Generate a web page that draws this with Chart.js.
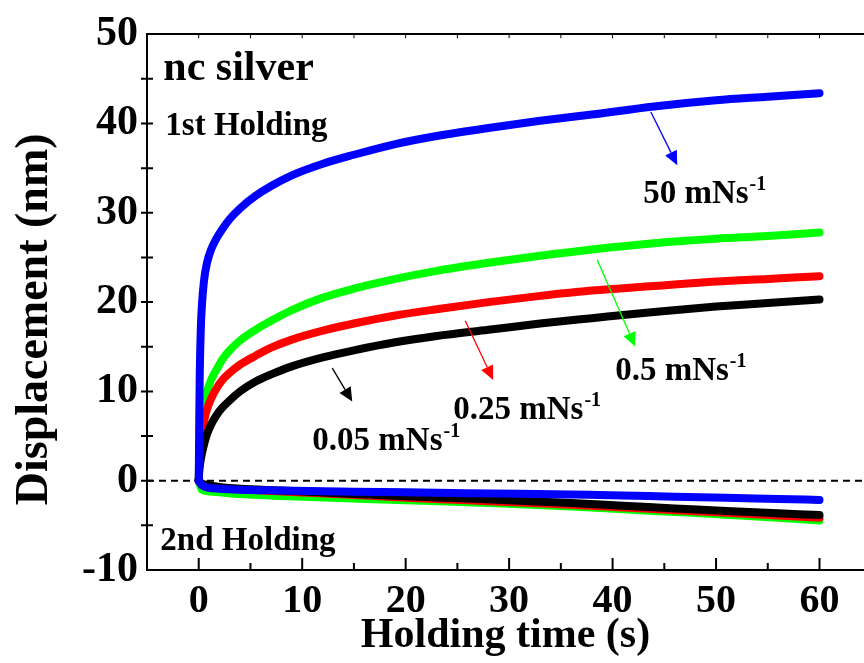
<!DOCTYPE html>
<html>
<head>
<meta charset="utf-8">
<script src="https://cdn.jsdelivr.net/npm/chart.js@4.4.1/dist/chart.umd.min.js"></script>
<style>
  html, body { margin: 0; padding: 0; background: #fff; }
  #wrap { width: 864px; height: 663px; }
</style>
</head>
<body>
<div id="wrap"><canvas id="c" width="864" height="663"></canvas></div>
<script>
/* nc silver — deslocamento durante os dois holdings, por taxa de carga */
const FONT = '"Liberation Serif", "Times New Roman", Times, serif';

// 1st holding: tempo (s) e deslocamento (nm)
const T1 = [0, 0.05, 0.1, 0.2, 0.3, 0.5, 0.8, 1.2, 1.7, 2.3, 3, 4, 5.5, 7, 9, 12, 15, 19, 23, 28, 33, 38, 44, 50, 55, 60];
const D1_50   = [0, 7, 12, 17, 19.5, 22.3, 24.4, 25.9, 27.1, 28.2, 29.3, 30.5, 31.9, 33.0, 34.2, 35.5, 36.5, 37.7, 38.6, 39.5, 40.3, 41.0, 41.9, 42.6, 43.0, 43.4];
const D1_05   = [0, 3, 4.5, 6, 7, 8.5, 10, 11.3, 12.4, 13.6, 14.6, 15.7, 16.9, 17.9, 19.1, 20.5, 21.5, 22.6, 23.5, 24.4, 25.2, 25.9, 26.6, 27.1, 27.4, 27.8];
const D1_025  = [0, 2, 3, 4.2, 5, 6.6, 8, 9.2, 10.3, 11.3, 12.1, 13.0, 14.0, 14.9, 15.8, 16.8, 17.6, 18.5, 19.2, 20.0, 20.7, 21.3, 21.8, 22.3, 22.6, 22.9];
const D1_005  = [0, 1, 1.6, 2.4, 3, 4, 5.2, 6.3, 7.3, 8.2, 9.0, 10.0, 11.1, 11.9, 12.8, 13.8, 14.6, 15.5, 16.2, 16.9, 17.6, 18.2, 18.9, 19.5, 19.9, 20.3];

// 2nd holding
const T2 = [0, 0.3, 1, 2, 4, 8, 15, 20, 26, 31, 36, 41, 46, 51, 56, 60];
const D2_50   = [0, -0.5, -0.8, -0.9, -1.0, -1.1, -1.25, -1.3, -1.4, -1.45, -1.55, -1.65, -1.8, -1.9, -2.05, -2.15];
const D2_05   = [0, -1.0, -1.2, -1.3, -1.5, -1.7, -2.0, -2.2, -2.4, -2.65, -2.9, -3.2, -3.5, -3.8, -4.15, -4.45];
const D2_025  = [0, -0.4, -0.6, -0.8, -1.0, -1.2, -1.6, -1.9, -2.2, -2.45, -2.7, -3.0, -3.3, -3.6, -3.9, -4.15];
const D2_005  = [0, -0.3, -0.5, -0.7, -0.9, -1.1, -1.5, -1.75, -2.0, -2.25, -2.5, -2.8, -3.1, -3.4, -3.65, -3.85];

const SERIES = [
  { name: '50 mNs-1',   color: '#0000ff', d1: D1_50,  d2: D2_50 },
  { name: '0.05 mNs-1', color: '#000000', d1: D1_005, d2: D2_005 },
  { name: '0.25 mNs-1', color: '#ff0000', d1: D1_025, d2: D2_025 },
  { name: '0.5 mNs-1',  color: '#00ff00', d1: D1_05,  d2: D2_05 },
];

const X_TICK_LABELS = [0, 10, 20, 30, 40, 50, 60];
const Y_TICK_LABELS = [-10, 0, 10, 20, 30, 40, 50];

// anotações (coordenadas em dados)
const TEXTS = [
  { text: 'nc silver',   x: -3.42, y: 44.82, size: 42 },
  { text: '1st Holding', x: -3.23, y: 38.75, size: 33 },
  { text: '2nd Holding', x: -3.71, y: -7.79, size: 33 },
  { text: '50 mNs',   sup: '-1', x: 42.96, y: 31.14, size: 33 },
  { text: '0.5 mNs',  sup: '-1', x: 40.25, y: 11.29, size: 33 },
  { text: '0.25 mNs', sup: '-1', x: 24.6,  y: 6.88,  size: 33 },
  { text: '0.05 mNs', sup: '-1', x: 10.98, y: 3.46,  size: 33 },
];
const ARROWS = [
  { color: '#0000ff', from: [43.7, 41.29],  to: [46.25, 35.33] },
  { color: '#00ff00', from: [38.51, 24.74], to: [42.18, 15.04] },
  { color: '#ff0000', from: [25.76, 17.91], to: [28.46, 11.29] },
  { color: '#000000', from: [12.91, 12.61], to: [14.84, 8.86] },
];

const pts = (t, d) => t.map((v, i) => ({ x: v, y: d[i] }));

const datasets = [];
SERIES.forEach(s => {
  [pts(T1, s.d1), pts(T2, s.d2)].forEach(data => {
    datasets.push({
      label: s.name,
      data,
      borderColor: s.color,
      borderWidth: 8,
      borderCapStyle: 'round',
      borderJoinStyle: 'round',
      pointRadius: 0,
      cubicInterpolationMode: 'monotone',
      fill: false,
    });
  });
});
// linha tracejada em zero (desenhada por baixo)
datasets.push({
  label: 'zero',
  data: [{ x: -5, y: 0 }, { x: 64.3, y: 0 }],
  borderColor: '#000',
  borderWidth: 2,
  borderDash: [7, 5],
  pointRadius: 0,
});

const annotations = {
  id: 'annotations',
  afterDraw(chart) {
    const { ctx, chartArea: a, scales: { x, y } } = chart;
    ctx.save();

    // ticks da moldura
    ctx.strokeStyle = '#000';
    ctx.lineWidth = 2;
    ctx.beginPath();
    x.ticks.forEach(t => {
      const px = x.getPixelForValue(t.value);
      if (px < a.left + 2 || px > a.right - 1) return;
      const major = t.value % 10 === 0;
      ctx.moveTo(px, a.bottom);
      ctx.lineTo(px, a.bottom - (major ? 12 : 7));
    });
    y.ticks.forEach(t => {
      const py = y.getPixelForValue(t.value);
      if (py < a.top + 2 || py > a.bottom - 2) return;
      ctx.moveTo(a.left - 6, py);
      ctx.lineTo(a.left + 6, py);
    });
    ctx.stroke();
    ctx.lineWidth = 1;
    ctx.beginPath();
    x.ticks.forEach(t => {
      const px = x.getPixelForValue(t.value);
      if (px < a.left + 2 || px > a.right - 1) return;
      ctx.moveTo(px, a.top);
      ctx.lineTo(px, a.top + 4);
    });
    ctx.stroke();

    // setas
    ARROWS.forEach(ar => {
      const x0 = x.getPixelForValue(ar.from[0]), y0 = y.getPixelForValue(ar.from[1]);
      const x1 = x.getPixelForValue(ar.to[0]),   y1 = y.getPixelForValue(ar.to[1]);
      const ang = Math.atan2(y1 - y0, x1 - x0);
      const L = 14, W = 6.5;
      const bx = x1 - L * Math.cos(ang), by = y1 - L * Math.sin(ang);
      ctx.strokeStyle = ar.color;
      ctx.fillStyle = ar.color;
      ctx.lineWidth = 1.3;
      ctx.beginPath();
      ctx.moveTo(x0, y0);
      ctx.lineTo(bx, by);
      ctx.stroke();
      ctx.beginPath();
      ctx.moveTo(x1, y1);
      ctx.lineTo(bx + W * Math.sin(ang), by - W * Math.cos(ang));
      ctx.lineTo(bx - W * Math.sin(ang), by + W * Math.cos(ang));
      ctx.closePath();
      ctx.fill();
    });

    // textos
    ctx.fillStyle = '#000';
    ctx.textAlign = 'left';
    ctx.textBaseline = 'alphabetic';
    TEXTS.forEach(t => {
      const px = x.getPixelForValue(t.x), py = y.getPixelForValue(t.y);
      ctx.font = 'bold ' + t.size + 'px ' + FONT;
      ctx.fillText(t.text, px, py);
      if (t.sup) {
        const w = ctx.measureText(t.text).width;
        ctx.font = 'bold ' + Math.round(t.size * 0.6) + 'px ' + FONT;
        ctx.fillText(t.sup, px + w + 1, py - 13);
      }
    });
    ctx.restore();
  },
};

new Chart(document.getElementById('c').getContext('2d'), {
  type: 'line',
  data: { datasets },
  plugins: [annotations],
  options: {
    responsive: false,
    animation: false,
    devicePixelRatio: 1,
    layout: { padding: 0 },
    plugins: { legend: { display: false }, tooltip: { enabled: false } },
    scales: {
      x: {
        type: 'linear',
        position: 'bottom',
        min: -5, max: 64.3,
        afterFit: s => { s.height = 93; },
        afterBuildTicks: s => {
          const out = [];
          for (let v = -5; v <= 64.3; v += 5) out.push({ value: v });
          s.ticks = out;
        },
        ticks: {
          autoSkip: false, maxRotation: 0, padding: 8, color: '#000',
          font: { family: FONT, size: 40, weight: 'bold' },
          callback: v => (X_TICK_LABELS.includes(v) ? String(v) : ''),
        },
        grid: { display: false, drawTicks: false, tickLength: 0 },
        border: { display: true, color: '#000', width: 2 },
        title: {
          display: true, text: 'Holding time (s)', color: '#000',
          font: { family: FONT, size: 42, weight: 'bold' },
          padding: { top: 0, bottom: 2 },
        },
      },
      xTop: {
        type: 'linear',
        position: 'top',
        min: -5, max: 64.3,
        afterFit: s => { s.height = 26; },
        ticks: { display: false },
        grid: { display: false, drawTicks: false, tickLength: 0 },
        border: { display: true, color: '#000', width: 2 },
      },
      y: {
        type: 'linear',
        position: 'left',
        min: -10, max: 50,
        afterFit: s => { s.width = 147; },
        ticks: {
          stepSize: 5, autoSkip: false, padding: 9, color: '#000',
          font: { family: FONT, size: 42, weight: 'bold' },
          callback: v => (Y_TICK_LABELS.includes(v) ? String(v) : ''),
        },
        grid: { display: false, drawTicks: false, tickLength: 0 },
        border: { display: true, color: '#000', width: 2 },
        title: {
          display: true, text: 'Displacement (nm)\u00a0\u00a0\u00a0', color: '#000',
          font: { family: FONT, size: 46, weight: 'bold' },
          padding: { top: 8, bottom: 0 },
        },
      },
    },
  },
});
</script>
</body>
</html>
